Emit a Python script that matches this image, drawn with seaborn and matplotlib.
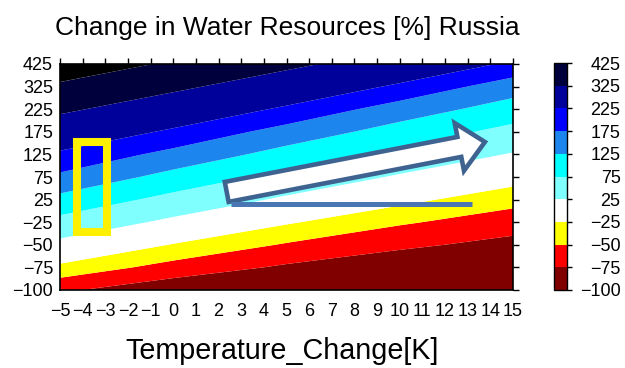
import numpy as np
import seaborn as sns
import matplotlib
matplotlib.use("Agg")
import matplotlib.pyplot as plt
from matplotlib.colors import ListedColormap, BoundaryNorm
from matplotlib.cm import ScalarMappable
from matplotlib.patches import Rectangle, FancyArrow

# ---------------- data ----------------
temperature_grid = [-5, 0, 5, 10, 15]           # K, columns of the field
levels = [-100, -75, -50, -25, 25, 75, 125, 175, 225, 325, 425]
y_labels = ["\u2212100", "\u221275", "\u221250", "\u221225", "25", "75",
            "125", "175", "225", "325", "425"]
x_ticks = list(range(-5, 16))
x_tick_labels = [("\u2212%d" % -v) if v < 0 else str(v) for v in x_ticks]

# change in water resources [%] at the 11 y-rows (bottom -> top) for each T column
change_T_m5 = [-71.0, -32.2, 11.5, 59.3, 110.1, 164.9, 215.2, 275.0, 339.3, 410.7, 482.0]
change_T_0 = [-91.6, -60.0, -26.9, 14.5, 59.4, 108.0, 159.9, 215.2, 276.6, 341.1, 412.5]
change_T_5 = [-97.0, -78.9, -52.6, -21.9, 17.2, 59.6, 106.0, 155.4, 215.1, 278.1, 342.9]
change_T_10 = [-99.0, -92.6, -69.9, -46.8, -17.1, 19.5, 59.8, 104.2, 151.4, 215.1, 279.7]
change_T_15 = [-99.0, -92.0, -82.9, -63.2, -41.6, -12.9, 21.6, 59.9, 102.5, 147.7, 215.0]

band_colors = ["#800000", "#ff0000", "#ffff00", "#ffffff", "#80ffff", "#00ffff",
               "#1c86ee", "#0000ff", "#00009a", "#00003c"]
over_color = "#000000"

# annotation overlay (data coordinates)
box_T = (-4.25, -2.92)
box_y = (2.57, 6.55)
arrow_start = (2.36, 4.34)
arrow_end = (13.76, 6.55)
hline_T = (2.54, 13.18)
hline_y = 3.8

# ---------------- style ----------------
sns.set_theme(style="white")
plt.rcParams["font.family"] = ["Liberation Sans", "DejaVu Sans"]
plt.rcParams["text.color"] = "black"
plt.rcParams["xtick.color"] = "black"
plt.rcParams["ytick.color"] = "black"
plt.rcParams["axes.labelcolor"] = "black"

W, H = 625, 368
fig = plt.figure(figsize=(W / 100, H / 100), dpi=100)

ax = fig.add_axes([60 / W, 1 - 290 / H, 453 / W, 226 / H])
cax = fig.add_axes([554 / W, 1 - 290 / H, 13 / W, 227 / H])

y_rows = np.arange(len(y_labels))
Z = np.column_stack([change_T_m5, change_T_0, change_T_5, change_T_10, change_T_15])

ax.contourf(temperature_grid, y_rows, Z, levels=levels,
            colors=band_colors + [over_color], extend="max", antialiased=True)

ax.set_xlim(-5, 15)
ax.set_ylim(0, 10)
ax.set_xticks(x_ticks)
ax.set_xticklabels(x_tick_labels)
ax.set_yticks(y_rows)
ax.set_yticklabels(y_labels)
ax.tick_params(axis="both", which="major", direction="out", length=4.5, width=1,
               color="black", labelcolor="black", labelsize=13, top=True, right=True,
               labeltop=False, labelright=False)
ax.tick_params(axis="y", pad=0.5)
ax.tick_params(axis="x", pad=5)
for s in ax.spines.values():
    s.set_visible(True)
    s.set_color("black")
    s.set_linewidth(1.2)
ax.set_xlabel("")
ax.set_ylabel("")

# annotations
ax.add_patch(Rectangle((box_T[0], box_y[0]), box_T[1] - box_T[0], box_y[1] - box_y[0],
                       fill=False, edgecolor="#fff000", linewidth=5.8, zorder=5))
ax.add_patch(FancyArrow(arrow_start[0], arrow_start[1],
                        arrow_end[0] - arrow_start[0], arrow_end[1] - arrow_start[1],
                        width=0.9, head_width=2.15, head_length=1.15,
                        length_includes_head=True, facecolor="white",
                        edgecolor="#3f6390", linewidth=3.3, zorder=6))
ax.plot(hline_T, [hline_y, hline_y], color="#4a77b4", linewidth=3.6,
        solid_capstyle="butt", zorder=7)

# colorbar
cmap = ListedColormap(band_colors)
norm = BoundaryNorm(levels, cmap.N)
cb = fig.colorbar(ScalarMappable(norm=norm, cmap=cmap), cax=cax,
                  ticks=levels, spacing="uniform")
cb.set_ticklabels(y_labels)
cb.outline.set_edgecolor("black")
cb.outline.set_linewidth(1.0)
cax.tick_params(direction="out", length=3.6, width=1, color="black",
                labelcolor="black", labelsize=13, pad=35)
for lab in cax.get_yticklabels():
    lab.set_horizontalalignment("right")

fig.text(287 / W, 1 - 35 / H, "Change in Water Resources [%] Russia",
         ha="center", va="baseline", fontsize=19, color="black")
fig.text(282 / W, 1 - 359 / H, "Temperature_Change[K]",
         ha="center", va="baseline", fontsize=20.7, color="black")

fig.savefig("out.png", dpi=100)
